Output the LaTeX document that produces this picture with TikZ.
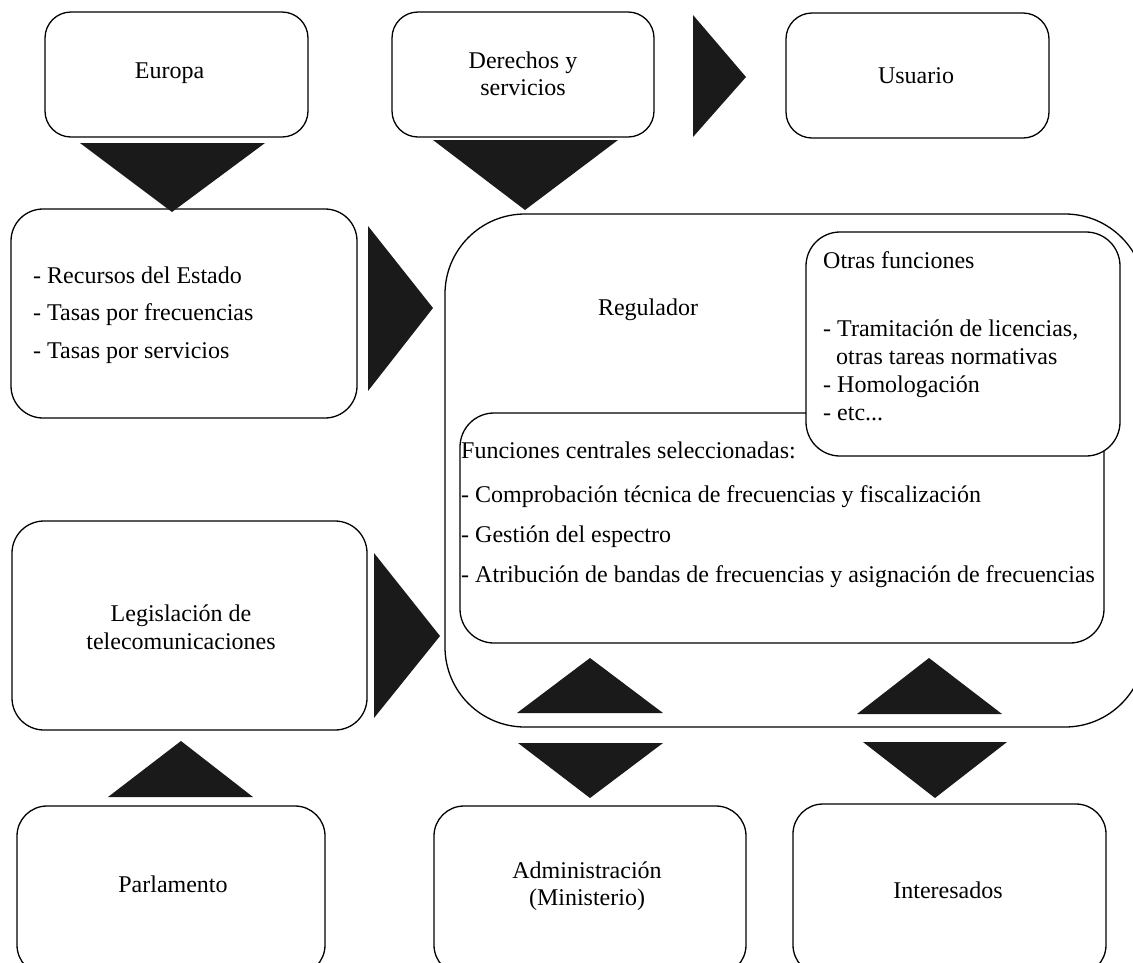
\documentclass[tikz,border=0pt]{standalone}
\usepackage{fontspec}
\setmainfont{Liberation Serif}
\definecolor{arrowgray}{HTML}{1A1A1A}
\begin{document}
\begin{tikzpicture}[x=1pt,y=-1pt,
  box/.style={draw=black,line width=1.3pt,rounded corners=#1,fill=white,inner sep=0pt},
  box/.default=26pt,
  arr/.style={fill=arrowgray},
  txt/.style={inner sep=0pt,font=\fontsize{24}{28}\selectfont},
]
\useasboundingbox (0,0) rectangle (1133,962);
\fill[white] (0,0) rectangle (1133,962);
\clip (0,0) rectangle (1133,962);

% boxes
\node[box=80pt,minimum width=700pt,minimum height=513pt] (regulador) at (795,470.5) {};
\node[box=34pt,minimum width=644pt,minimum height=230pt] (funciones) at (782,528) {};
\node[box=34pt,minimum width=314pt,minimum height=224pt] (otras) at (963,344) {};
\node[box,minimum width=263pt,minimum height=125pt] (europa) at (176.5,74.5) {};
\node[box,minimum width=262pt,minimum height=125pt] (derechos) at (523,74.5) {};
\node[box,minimum width=263pt,minimum height=125pt] (usuario) at (917.5,75.5) {};
\node[box=32pt,minimum width=346pt,minimum height=209pt] (recursos) at (184,313.5) {};
\node[box=32pt,minimum width=355pt,minimum height=209pt] (legis) at (189.5,625.5) {};
\node[box=30pt,minimum width=308pt,minimum height=169pt] (parlamento) at (171,890.5) {};
\node[box=30pt,minimum width=312pt,minimum height=169pt] (admin) at (590,890.5) {};
\node[box=30pt,minimum width=313pt,minimum height=171pt] (interesados) at (949.5,889.5) {};

% block arrows
\fill[arr] (80,143) -- (265,143) -- (172,212) -- cycle;
\fill[arr] (433,140) -- (618,140) -- (525,210) -- cycle;
\fill[arr] (693,15) -- (693,137) -- (746,77) -- cycle;
\fill[arr] (368,226) -- (368,391) -- (433,308) -- cycle;
\fill[arr] (374,553) -- (374,718) -- (440,636) -- cycle;
\fill[arr] (108,797) -- (253,797) -- (181,741) -- cycle;
\fill[arr] (517,713) -- (663,713) -- (590,658) -- cycle;
\fill[arr] (857,714) -- (1002,714) -- (929,658) -- cycle;
\fill[arr] (518,743) -- (663,743) -- (590,798) -- cycle;
\fill[arr] (863,742) -- (1007,742) -- (935,798) -- cycle;

% texts
\node[txt,anchor=base] (tEuropa) at (169.5,78) {Europa};
\node[txt,anchor=north,align=center,font=\fontsize{24}{27}\selectfont] (tDerechos) at (523,51.6) {Derechos y\\servicios};
\node[txt,anchor=base] (tUsuario) at (916,83) {Usuario};
\node[txt,anchor=north west,align=left,font=\fontsize{24}{37.5}\selectfont] (tRecursos) at (33,266.6)
  {- Recursos del Estado\\- Tasas por frecuencias\\- Tasas por servicios};
\node[txt,anchor=base] (tRegulador) at (648,315) {Regulador};
\node[txt,anchor=north west,align=left,font=\fontsize{24}{28}\selectfont] (tOtras) at (823,251.6)
  {Otras funciones\\[40pt]- Tramitación de licencias,\\\hspace*{13pt}otras tareas normativas\\- Homologación\\- etc...};
\node[txt,anchor=north west,align=left,font=\fontsize{24}{40}\selectfont] (tFunciones) at (461,441.6)
  {Funciones centrales seleccionadas:\\[4pt]- Comprobación técnica de frecuencias y fiscalización\\- Gestión del espectro\\- Atribución de bandas de frecuencias y asignación de frecuencias};
\node[txt,anchor=north,align=center] (tLegis) at (181,605) {Legislación de\\telecomunicaciones};
\node[txt,anchor=base] (tParlamento) at (173,892) {Parlamento};
\node[txt,anchor=north,align=center,font=\fontsize{24}{27}\selectfont] (tAdmin) at (587,861.6) {Administración\\(Ministerio)};
\node[txt,anchor=base] (tInteresados) at (948,898) {Interesados};
\end{tikzpicture}
\end{document}
